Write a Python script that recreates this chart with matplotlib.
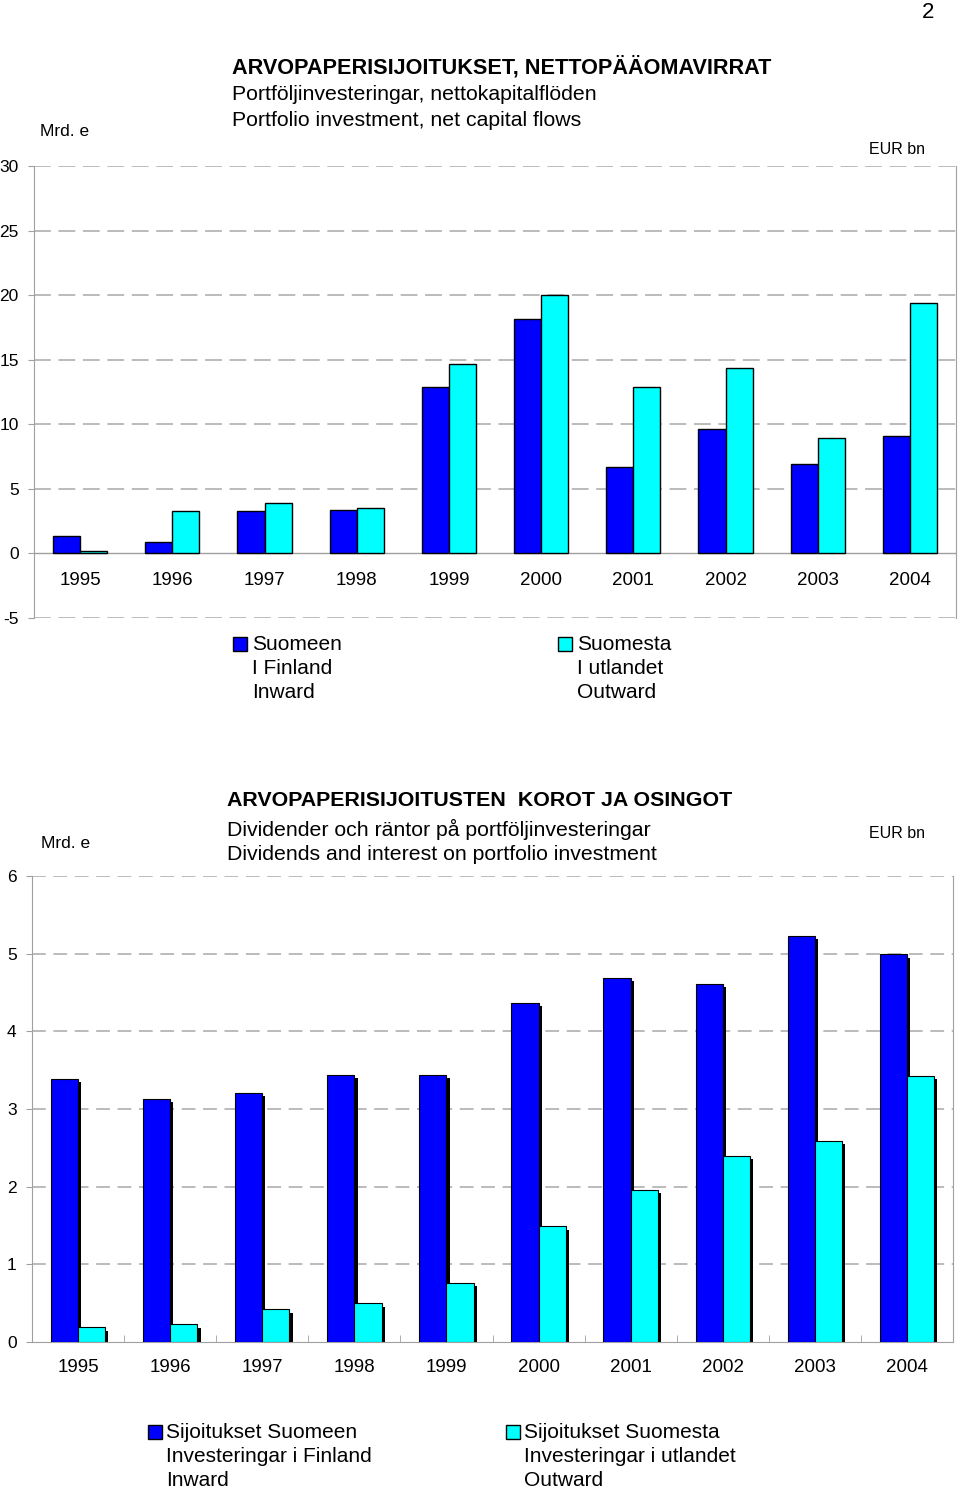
import matplotlib
matplotlib.use("Agg")
import matplotlib.pyplot as plt
import numpy as np
from matplotlib.patches import Rectangle

plt.rcParams['font.family'] = ['Liberation Sans', 'DejaVu Sans']

years = ['1995', '1996', '1997', '1998', '1999', '2000', '2001', '2002', '2003', '2004']

# Chart 1: portfolio investment, net capital flows (EUR bn)
flows_inward = [1.34, 0.90, 3.27, 3.35, 12.86, 18.15, 6.68, 9.64, 6.94, 9.07]
flows_outward = [0.15, 3.27, 3.92, 3.48, 14.67, 19.98, 12.89, 14.33, 8.92, 19.36]

# Chart 2: dividends and interest on portfolio investment (EUR bn)
income_inward = [3.39, 3.13, 3.21, 3.44, 3.44, 4.37, 4.69, 4.61, 5.23, 4.99]
income_outward = [0.19, 0.23, 0.42, 0.50, 0.76, 1.49, 1.96, 2.40, 2.59, 3.43]

BLUE = '#0000FF'
CYAN = '#00FFFF'
GRID = '#A8A8A8'
SPINE = '#A0A0A0'

W, H = 960, 1490
fig = plt.figure(figsize=(W / 100, H / 100), dpi=100)


def px_axes(left, top, right, bottom):
    return fig.add_axes([left / W, 1 - bottom / H, (right - left) / W, (bottom - top) / H])


def fx(x):
    return x / W


def fy(y):
    return 1 - y / H


x = np.arange(len(years))
bw = 0.295

# ---------------- Chart 1 ----------------
ax1 = px_axes(34, 166, 956, 618)
ax1.set_xlim(-0.5, len(years) - 0.5)
ax1.set_ylim(-5, 30)
ax1.bar(x - bw / 2, flows_inward, bw, color=BLUE, edgecolor='black', linewidth=1.0, zorder=3)
ax1.bar(x + bw / 2, flows_outward, bw, color=CYAN, edgecolor='black', linewidth=1.0, zorder=3)
ax1.set_yticks(np.arange(-5, 31, 5))
ax1.set_yticklabels([str(v) for v in range(-5, 31, 5)], fontsize=12.5)
for v in range(-5, 31, 5):
    if v != 0:
        ax1.axhline(v, color=GRID, linewidth=1.1, dashes=(11, 5), zorder=1)
ax1.axhline(0, color=SPINE, linewidth=1.0, zorder=2)
ax1.set_xticks([])
for xi, lab in zip(x, years):
    ax1.text(xi, -2.1, lab, ha='center', va='center', fontsize=13.5)
for s in ['top', 'bottom']:
    ax1.spines[s].set_visible(False)
for s in ['left', 'right']:
    ax1.spines[s].set_color(SPINE)
ax1.tick_params(axis='y', length=4, color=SPINE, pad=7)

fig.text(fx(928), fy(12), '2', fontsize=16, ha='center', va='center')
fig.text(fx(232), fy(67), 'ARVOPAPERISIJOITUKSET, NETTOPÄÄOMAVIRRAT', fontsize=15.6,
         fontweight='bold', ha='left', va='center')
fig.text(fx(232), fy(95), 'Portföljinvesteringar, nettokapitalflöden', fontsize=15.3,
         ha='left', va='center')
fig.text(fx(232), fy(121), 'Portfolio investment, net capital flows', fontsize=15.3,
         ha='left', va='center')
fig.text(fx(40), fy(131), 'Mrd. e', fontsize=12.5, ha='left', va='center')
fig.text(fx(925), fy(149), 'EUR bn', fontsize=11.5, ha='right', va='center')

# legend 1
for sx, col, lines in [(233, BLUE, ['Suomeen', 'I Finland', 'Inward']),
                       (558, CYAN, ['Suomesta', 'I utlandet', 'Outward'])]:
    fig.patches.append(Rectangle((fx(sx), fy(651)), 14 / W, 14 / H, facecolor=col,
                                 edgecolor='black', linewidth=1.0,
                                 transform=fig.transFigure, figure=fig))
    for i, t in enumerate(lines):
        fig.text(fx(sx + 19), fy(645 + 23.5 * i), t, fontsize=15, ha='left', va='center')

# ---------------- Chart 2 ----------------
ax2 = px_axes(32, 876, 953, 1342)
ax2.set_xlim(-0.5, len(years) - 0.5)
ax2.set_ylim(0, 6)
shx = 0.035
shy = 0.045
ax2.bar(x - bw / 2 + shx, np.array(income_inward) - shy, bw, color='black', linewidth=0, zorder=2)
ax2.bar(x + bw / 2 + shx, np.array(income_outward) - shy, bw, color='black', linewidth=0, zorder=2)
ax2.bar(x - bw / 2, income_inward, bw, color=BLUE, edgecolor='black', linewidth=0.8, zorder=3)
ax2.bar(x + bw / 2, income_outward, bw, color=CYAN, edgecolor='black', linewidth=0.8, zorder=3)
ax2.set_yticks(np.arange(0, 7, 1))
ax2.set_yticklabels([str(v) for v in range(0, 7)], fontsize=12.5)
for v in range(1, 7):
    ax2.axhline(v, color=GRID, linewidth=1.1, dashes=(9, 5), zorder=1)
ax2.set_xticks(x)
ax2.set_xticklabels(years, fontsize=13.5)
ax2.set_xticks(np.arange(0.5, len(years) - 0.5, 1), minor=True)
ax2.tick_params(axis='x', which='major', length=0, pad=12)
ax2.tick_params(axis='x', which='minor', direction='in', length=5, color=SPINE)
ax2.tick_params(axis='y', length=4, color=SPINE, pad=7)
ax2.spines['top'].set_visible(False)
for s in ['left', 'right', 'bottom']:
    ax2.spines[s].set_color(SPINE)

fig.text(fx(227), fy(801), 'ARVOPAPERISIJOITUSTEN  KOROT JA OSINGOT', fontsize=15.4,
         fontweight='bold', ha='left', va='center')
fig.text(fx(227), fy(829), 'Dividender och räntor på portföljinvesteringar', fontsize=15.3,
         ha='left', va='center')
fig.text(fx(227), fy(855), 'Dividends and interest on portfolio investment', fontsize=15.3,
         ha='left', va='center')
fig.text(fx(41), fy(843), 'Mrd. e', fontsize=12.5, ha='left', va='center')
fig.text(fx(925), fy(833), 'EUR bn', fontsize=11.5, ha='right', va='center')

for sx, col, lines in [(148, BLUE, ['Sijoitukset Suomeen', 'Investeringar i Finland', 'Inward']),
                       (506, CYAN, ['Sijoitukset Suomesta', 'Investeringar i utlandet', 'Outward'])]:
    fig.patches.append(Rectangle((fx(sx), fy(1439)), 14 / W, 14 / H, facecolor=col,
                                 edgecolor='black', linewidth=1.0,
                                 transform=fig.transFigure, figure=fig))
    for i, t in enumerate(lines):
        fig.text(fx(sx + 18), fy(1432 + 24 * i), t, fontsize=15, ha='left', va='center')

fig.savefig('out.png', dpi=100, facecolor='white')
